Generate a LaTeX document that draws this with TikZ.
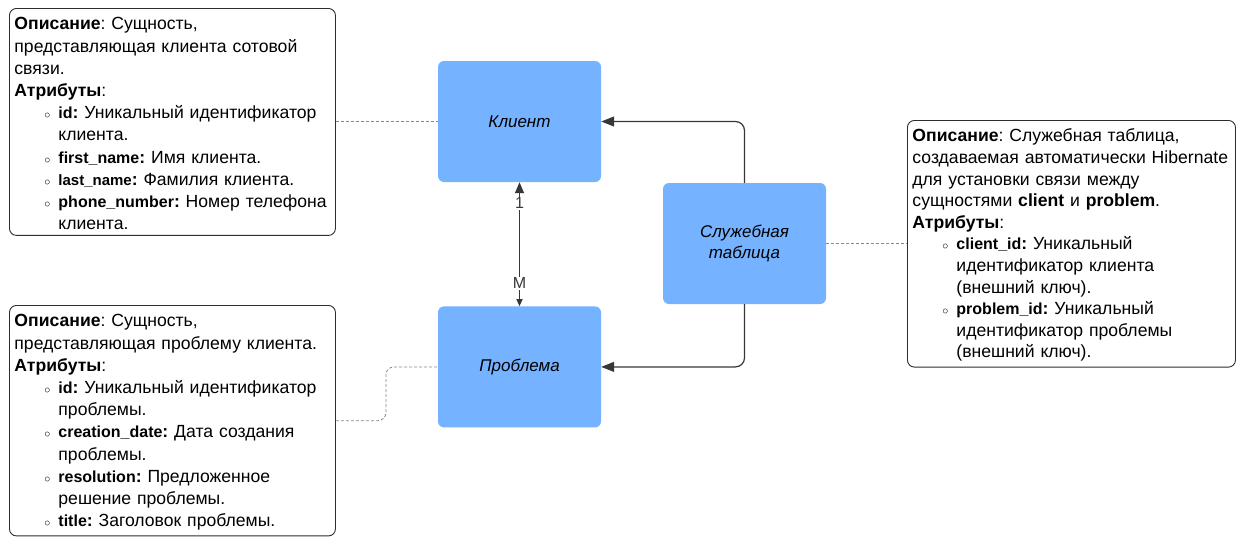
\documentclass[tikz,border=0pt]{standalone}
\usepackage{fontspec}
\setmainfont{Liberation Sans}
\usetikzlibrary{positioning,arrows.meta}
\definecolor{EntityBlue}{RGB}{117,178,255}
\definecolor{LineGray}{RGB}{55,55,55}
\definecolor{DashGray}{RGB}{135,135,135}
\definecolor{FrameGray}{RGB}{45,45,45}
\newcommand{\attrname}[2]{{\fontsize{#1}{#1}\selectfont\bfseries #2}\textbf{:}}
\newcommand{\attritem}[3][16]{\par{\leftskip=44pt\noindent\llap{$\scriptstyle\circ$\hspace{8pt}}\attrname{#1}{#2} #3\par}}
\newcommand{\firstline}{\rule{0pt}{16pt}}
\tikzset{
  entity/.style={fill=EntityBlue,rounded corners=6pt,minimum width=163pt,
    minimum height=121pt,align=center,font=\fontsize{17}{21}\selectfont\itshape},
  notebox/.style={draw=FrameGray,line width=0.9pt,rounded corners=7pt,anchor=north west,
    inner xsep=5pt,inner ysep=5.5pt,align=left,font=\fontsize{17.6}{22.2}\selectfont\frenchspacing},
  relflow/.style={-{Triangle[length=13pt,width=10pt]},line width=1.2pt,draw=LineGray,rounded corners=9pt},
  linkdash/.style={dashed,dash pattern=on 3pt off 2pt,line width=0.8pt,draw=DashGray},
  card/.style={fill=white,inner sep=1pt,text=LineGray,font=\fontsize{16}{16}\selectfont}
}

\begin{document}
\begin{tikzpicture}[x=1pt,y=-1pt,node distance=124pt]
  \useasboundingbox (0,0) rectangle (1240,544);
  \clip (0,0) rectangle (1240,544);
  \node[entity] (client) at (519.5,121.5) {Клиент};
  \node[entity,below=of client] (problem) {Проблема};
  \node[entity] (link) at (744.5,243.5) {Служебная\\таблица};
  \node[notebox,text width=316pt] (clientnote) at (9,8)
    {\firstline\textbf{Описание}: Сущность,\\представляющая клиента сотовой\\связи.\\\textbf{Атрибуты}:
     \attritem{id}{Уникальный идентификатор\\клиента.}
     \attritem{first\_name}{Имя клиента.}
     \attritem[15]{last\_name}{Фамилия клиента.}
     \attritem{phone\_number}{Номер телефона\\клиента.}};
  \node[notebox,text width=316pt] (problemnote) at (9,305)
    {\firstline\textbf{Описание}: Сущность,\\представляющая проблему клиента.\\\textbf{Атрибуты}:
     \attritem{id}{Уникальный идентификатор\\проблемы.}
     \attritem{creation\_date}{Дата создания\\проблемы.}
     \attritem{resolution}{Предложенное\\решение проблемы.}
     \attritem{title}{Заголовок проблемы.}};
  \node[notebox,text width=318pt,font=\fontsize{17.6}{21.6}\selectfont\frenchspacing] (linknote) at (907,120)
    {\firstline\textbf{Описание}: Служебная таблица,\\создаваемая автоматически \mbox{Hibernate}\\для установки связи между\\сущностями \textbf{client} и \textbf{problem}.\\\textbf{Атрибуты}:
     \attritem{client\_id}{Уникальный\\идентификатор клиента\\(внешний ключ).}
     \attritem{problem\_id}{Уникальный\\идентификатор проблемы\\(внешний ключ).}};
  \draw[linkdash] (clientnote.east |- client.west) -- (client.west);
  \draw[linkdash,rounded corners=8pt] (problemnote.east) -- ++(50,0) |- (problem.west);
  \draw[linkdash] (link.east) -- (linknote.west |- link.east);
  \draw[relflow] (link.north) |- (client.east);
  \draw[relflow] (link.south) |- (problem.east);
  \draw[{Triangle[length=11pt,width=9pt]}-{Triangle[length=7pt,width=6pt]},line width=1.2pt,draw=LineGray]
    (client.south) -- node[card,pos=0.17] {1} node[card,pos=0.815] {M} (problem.north);
\end{tikzpicture}
\end{document}
